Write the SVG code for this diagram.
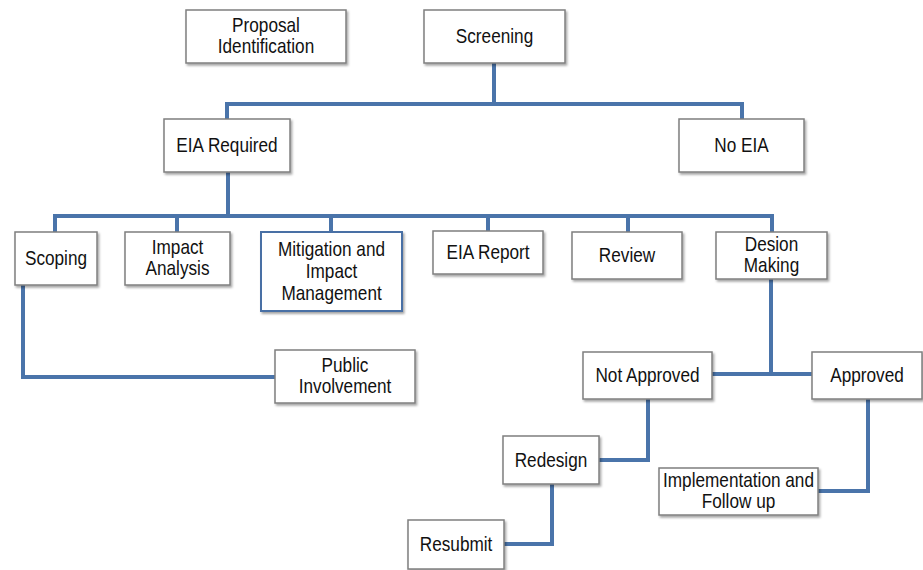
<svg xmlns="http://www.w3.org/2000/svg" width="923" height="570" viewBox="0 0 923 570">
<style>
.box{fill:#fff;stroke:#7f7f7f;stroke-width:1.5;filter:url(#sh)}
.hl{stroke:#4a6fa5;stroke-width:2}
text{font-family:"Liberation Sans Narrow","Arial Narrow","Liberation Sans",sans-serif;font-size:20px;fill:#111;text-anchor:middle;transform-box:fill-box;transform-origin:center;transform:scaleX(0.86)}
.ln{fill:none;stroke:#4a74aa;stroke-width:4;stroke-linejoin:miter}
</style>
<defs>
<filter id="sh" x="-10%" y="-10%" width="130%" height="140%">
<feDropShadow dx="1.5" dy="2" stdDeviation="1.2" flood-color="#000" flood-opacity="0.35"/>
</filter>
</defs>
<g id="connectors">
<path class="ln" d="M494,63 V104 M227,119 V104 H742 V119"/>
<path class="ln" d="M228,172 V216 M55,232 V216 H772 V232 M177,216 V232 M331,216 V232 M488,216 V231 M628,216 V232"/>
<path class="ln" d="M23,285 V377 H276"/>
<path class="ln" d="M771,279 V374 M712,374 H812"/>
<path class="ln" d="M648,399 V460 H599"/>
<path class="ln" d="M552,484 V544 H504"/>
<path class="ln" d="M868,399 V491 H818"/>
</g>
<g id="proposal"><rect class="box" x="186" y="10" width="160" height="53"/><text x="266" y="32">Proposal</text><text x="266" y="53">Identification</text></g>
<g id="screening"><rect class="box" x="424" y="10" width="141" height="53"/><text x="494.5" y="43">Screening</text></g>
<g id="eia-required"><rect class="box" x="164" y="119" width="126" height="53"/><text x="227" y="152">EIA Required</text></g>
<g id="no-eia"><rect class="box" x="679" y="119" width="125" height="53"/><text x="741.5" y="152">No EIA</text></g>
<g id="scoping"><rect class="box" x="15" y="232" width="82" height="53"/><text x="56" y="265">Scoping</text></g>
<g id="impact-analysis"><rect class="box" x="125" y="232" width="105" height="53"/><text x="177.5" y="254">Impact</text><text x="177.5" y="275">Analysis</text></g>
<g id="mitigation"><rect class="box hl" x="261" y="232" width="141" height="79"/><text x="331.5" y="256">Mitigation and</text><text x="331.5" y="278">Impact</text><text x="331.5" y="300">Management</text></g>
<g id="eia-report"><rect class="box" x="433" y="231" width="110" height="43"/><text x="488" y="259">EIA Report</text></g>
<g id="review"><rect class="box" x="572" y="232" width="110" height="47"/><text x="627" y="262">Review</text></g>
<g id="decision"><rect class="box" x="716" y="232" width="111" height="47"/><text x="771.5" y="251">Desion</text><text x="771.5" y="272">Making</text></g>
<g id="public"><rect class="box" x="275" y="350" width="140" height="53"/><text x="345" y="372">Public</text><text x="345" y="393">Involvement</text></g>
<g id="not-approved"><rect class="box" x="583" y="352" width="129" height="47"/><text x="647.5" y="382">Not Approved</text></g>
<g id="approved"><rect class="box" x="812" y="352" width="110" height="47"/><text x="867" y="382">Approved</text></g>
<g id="redesign"><rect class="box" x="503" y="436" width="96" height="48"/><text x="551" y="467">Redesign</text></g>
<g id="implementation"><rect class="box" x="659" y="468" width="159" height="47"/><text x="738.5" y="487">Implementation and</text><text x="738.5" y="508">Follow up</text></g>
<g id="resubmit"><rect class="box" x="408" y="520" width="96" height="49"/><text x="456" y="551">Resubmit</text></g>
</svg>
